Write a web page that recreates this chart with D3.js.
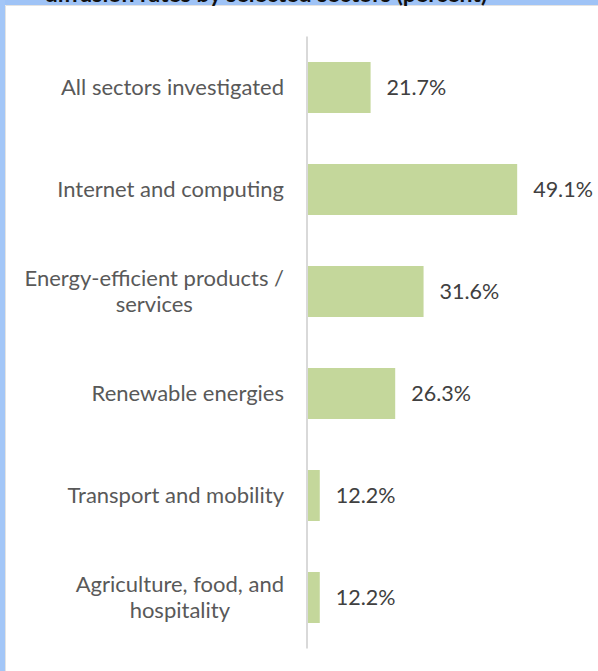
<!DOCTYPE html>
<html>
<head>
<meta charset="utf-8">
<script src="https://cdn.jsdelivr.net/npm/d3@7"></script>
<style>
  html, body { margin: 0; padding: 0; background: #fff; overflow: hidden; }
  svg { display: block; }
</style>
</head>
<body>
<div id="chart"></div>
<script>
(function () {
  'use strict';

  const titleText = 'diffusion rates by selected sectors (percent)';
  const categories = [
    ['All sectors investigated'],
    ['Internet and computing'],
    ['Energy-efficient products /', 'services'],
    ['Renewable energies'],
    ['Transport and mobility'],
    ['Agriculture, food, and', 'hospitality']
  ];
  const values = [21.7, 49.1, 31.6, 26.3, 12.2, 12.2];
  const xDomain = [10, 50];

  const W = 598, H = 671;
  const font = 'Lato, "Open Sans", sans-serif';

  const svg = d3.select('#chart').append('svg')
    .attr('width', W).attr('height', H);

  // window frame: blue band at top and left
  svg.append('rect').attr('x', 0).attr('y', 0).attr('width', W).attr('height', 5).attr('fill', '#9fc3f6');
  svg.append('rect').attr('x', 0).attr('y', 0).attr('width', 5).attr('height', H).attr('fill', '#a3c6f7');
  svg.append('line').attr('x1', 5.5).attr('x2', W).attr('y1', 5.5).attr('y2', 5.5).attr('stroke', '#e3e3e3');
  svg.append('line').attr('x1', 5.5).attr('x2', 5.5).attr('y1', 5.5).attr('y2', H).attr('stroke', '#e3e3e3');

  // title, cut off by the top edge
  svg.append('text')
    .attr('x', 266).attr('y', 2)
    .attr('text-anchor', 'middle')
    .attr('font-family', font).attr('font-weight', 'bold').attr('font-size', 23)
    .attr('fill', '#111')
    .text(titleText);

  const data = categories.map((c, i) => ({ lines: c, value: values[i], key: c.join(' ') }));

  const x = d3.scaleLinear().domain(xDomain).range([308, 522]);
  const y = d3.scaleBand().domain(data.map((d) => d.key)).range([36.5, 648.5])
    .paddingInner(0.5).paddingOuter(0.25);

  const g = svg.append('g');

  g.selectAll('.bar')
    .data(data)
    .enter().append('rect')
    .attr('x', x(xDomain[0]))
    .attr('y', (d) => y(d.key))
    .attr('width', (d) => x(d.value) - x(xDomain[0]))
    .attr('height', y.bandwidth())
    .attr('fill', '#c4d79b');

  // axis line
  g.append('line')
    .attr('x1', 307).attr('x2', 307)
    .attr('y1', y.range()[0]).attr('y2', y.range()[1])
    .attr('stroke', '#d9d9d9').attr('stroke-width', 2);

  // value labels
  g.selectAll('.val')
    .data(data)
    .enter().append('text')
    .attr('x', (d) => x(d.value) + 16)
    .attr('y', (d) => y(d.key) + y.bandwidth() / 2)
    .attr('dy', '0.35em')
    .attr('font-family', font).attr('font-size', 21.5)
    .attr('fill', '#404040')
    .text((d) => d.value.toFixed(1) + '%');

  // category labels, multi-line blocks centred under their longest line
  const labelRight = 284;
  const lineH = 26;
  data.forEach((d) => {
    const cy = y(d.key) + y.bandwidth() / 2;
    const t = g.append('text')
      .attr('font-family', font).attr('font-size', 22)
      .attr('fill', '#595959');
    const spans = d.lines.map((ln, i) => t.append('tspan')
      .attr('y', cy + (i - (d.lines.length - 1) / 2) * lineH)
      .attr('dy', '0.35em')
      .text(ln));
    if (d.lines.length === 1) {
      t.attr('text-anchor', 'end');
      spans[0].attr('x', labelRight);
    } else {
      const maxW = d3.max(spans, (s) => s.node().getComputedTextLength());
      t.attr('text-anchor', 'middle');
      spans.forEach((s) => s.attr('x', labelRight - maxW / 2));
    }
  });
})();
</script>
</body>
</html>
